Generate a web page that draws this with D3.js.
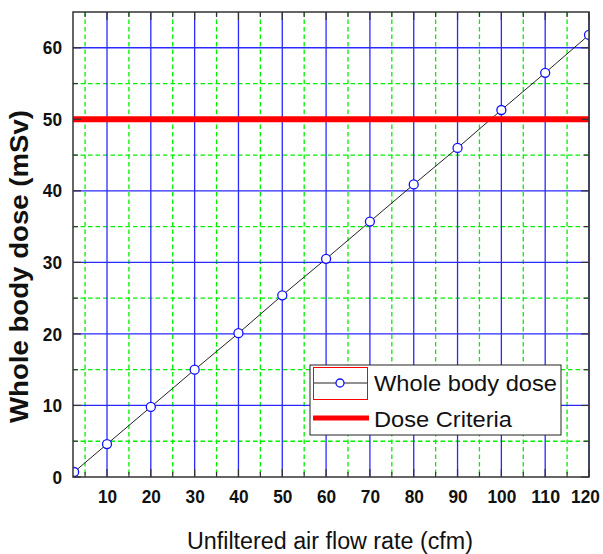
<!DOCTYPE html>
<html>
<head>
<meta charset="utf-8">
<script src="https://cdn.jsdelivr.net/npm/d3@7"></script>
<style>
  html, body { margin: 0; padding: 0; background: #fff; }
  svg { display: block; }
</style>
</head>
<body>
<svg id="chart" width="603" height="554"></svg>
<script>
// ---- data ----
const flow = [2.5, 10, 20, 30, 40, 50, 60, 70, 80, 90, 100, 110, 120];
const dose = [0.7, 4.6, 9.8, 15.0, 20.1, 25.4, 30.5, 35.7, 40.9, 46.0, 51.3, 56.5, 61.8];
const criteria = 50;
const xMajor = [10, 20, 30, 40, 50, 60, 70, 80, 90, 100, 110, 120];
const xMinor = [5, 15, 25, 35, 45, 55, 65, 75, 85, 95, 105, 115];
const yMajor = [0, 10, 20, 30, 40, 50, 60];
const yMinor = [5, 15, 25, 35, 45, 55];
const seriesNames = ["Whole body dose", "Dose Criteria"];
const xTitle = "Unfiltered air flow rate (cfm)";
const yTitle = "Whole body dose (mSv)";

// ---- layout ----
const L = 73, T = 12, R = 589, B = 477;
const svg = d3.select("#chart");
svg.append("rect").attr("width", 603).attr("height", 554).attr("fill", "#fff");

const x = d3.scaleLinear().domain([2.24, 120]).range([L, R]);
const y = d3.scaleLinear().domain([0, 65]).range([B, T]);

const tickFont = "'Liberation Sans', Arial, sans-serif";
const textFont = "'Liberation Sans', Arial, sans-serif";

// clip
svg.append("defs").append("clipPath").attr("id", "plotclip")
  .append("rect").attr("x", L).attr("y", T).attr("width", R - L).attr("height", B - T);

// ---- minor grid (green dashed) ----
const gMinor = svg.append("g");
gMinor.selectAll("line.vx").data(xMinor).join("line")
  .attr("x1", d => x(d)).attr("x2", d => x(d)).attr("y1", T).attr("y2", B)
  .attr("stroke", "#00f000").attr("stroke-width", 1.3).attr("stroke-dasharray", "4.5,3");
gMinor.selectAll("line.hy").data(yMinor).join("line")
  .attr("y1", d => y(d)).attr("y2", d => y(d)).attr("x1", L).attr("x2", R)
  .attr("stroke", "#00f000").attr("stroke-width", 1.3).attr("stroke-dasharray", "4.5,3");

// ---- major grid (blue solid) ----
const gMajor = svg.append("g");
gMajor.selectAll("line.vx").data(xMajor).join("line")
  .attr("x1", d => x(d)).attr("x2", d => x(d)).attr("y1", T).attr("y2", B)
  .attr("stroke", "#2a2aff").attr("stroke-width", 1.3);
gMajor.selectAll("line.hy").data(yMajor.filter(d => d > 0)).join("line")
  .attr("y1", d => y(d)).attr("y2", d => y(d)).attr("x1", L).attr("x2", R)
  .attr("stroke", "#2a2aff").attr("stroke-width", 1.3);

// ---- data ----
const pts = flow.map((f, i) => [f, dose[i]]);
const plot = svg.append("g").attr("clip-path", "url(#plotclip)");
plot.append("path").datum(pts)
  .attr("d", d3.line().x(d => x(d[0])).y(d => y(d[1])))
  .attr("fill", "none").attr("stroke", "#222").attr("stroke-width", 1);
plot.selectAll("circle").data(pts).join("circle")
  .attr("cx", d => x(d[0])).attr("cy", d => y(d[1])).attr("r", 4.5)
  .attr("fill", "#fff").attr("stroke", "#1010ff").attr("stroke-width", 1.3);
plot.append("line")
  .attr("x1", L).attr("x2", R).attr("y1", y(criteria)).attr("y2", y(criteria))
  .attr("stroke", "#ff0000").attr("stroke-width", 6);

// ---- ticks (all four sides) ----
const tickCol = "#333";
const gt = svg.append("g").attr("stroke", tickCol).attr("stroke-width", 1.2);
const allX = xMajor.map(v => [v, 8]).concat(xMinor.map(v => [v, 5]));
const allY = yMajor.map(v => [v, 8]).concat(yMinor.map(v => [v, 5]));
gt.selectAll("line.b").data(allX).join("line").attr("class", "b")
  .attr("x1", d => x(d[0])).attr("x2", d => x(d[0])).attr("y1", B).attr("y2", d => B - d[1]);
gt.selectAll("line.t").data(allX).join("line").attr("class", "t")
  .attr("x1", d => x(d[0])).attr("x2", d => x(d[0])).attr("y1", T).attr("y2", d => T + d[1]);
gt.selectAll("line.l").data(allY).join("line").attr("class", "l")
  .attr("y1", d => y(d[0])).attr("y2", d => y(d[0])).attr("x1", L).attr("x2", d => L + d[1]);
gt.selectAll("line.r").data(allY).join("line").attr("class", "r")
  .attr("y1", d => y(d[0])).attr("y2", d => y(d[0])).attr("x1", R).attr("x2", d => R - d[1]);

// frame
svg.append("rect").attr("x", L).attr("y", T).attr("width", R - L).attr("height", B - T)
  .attr("fill", "none").attr("stroke", tickCol).attr("stroke-width", 1.5);

// ---- tick labels via axes ----
const digitW = 9.6;
const xAxis = d3.axisBottom(x).tickValues(xMajor).tickSize(0).tickPadding(13).tickFormat(d3.format("d"));
const gx = svg.append("g").attr("transform", `translate(0,${B})`).call(xAxis);
gx.select(".domain").remove();
gx.selectAll("text").attr("font-family", tickFont).attr("font-size", 19).attr("font-weight", "bold").attr("fill", "#111")
  .attr("textLength", d => String(d).length * digitW).attr("lengthAdjust", "spacingAndGlyphs")
  .attr("dx", d => d === 120 ? -4 : 0);

const yAxis = d3.axisLeft(y).tickValues(yMajor).tickSize(0).tickPadding(11).tickFormat(d3.format("d"));
const gy = svg.append("g").attr("transform", `translate(${L},0)`).call(yAxis);
gy.select(".domain").remove();
gy.selectAll("text").attr("font-family", tickFont).attr("font-size", 19).attr("font-weight", "bold").attr("fill", "#111")
  .attr("textLength", d => String(d).length * digitW).attr("lengthAdjust", "spacingAndGlyphs");

// ---- axis titles ----
svg.append("text").attr("x", 187).attr("y", 549)
  .attr("font-family", textFont).attr("font-size", 23).attr("fill", "#111")
  .attr("textLength", 286).attr("lengthAdjust", "spacingAndGlyphs")
  .text(xTitle);
svg.append("text").attr("transform", "translate(28,423) rotate(-90)")
  .attr("font-family", textFont).attr("font-size", 25).attr("font-weight", "bold").attr("fill", "#111")
  .attr("textLength", 313).attr("lengthAdjust", "spacingAndGlyphs")
  .text(yTitle);

// ---- legend ----
const lg = svg.append("g");
lg.append("rect").attr("x", 310).attr("y", 365).attr("width", 251).attr("height", 70)
  .attr("fill", "#fff").attr("stroke", "#222").attr("stroke-width", 1);
lg.append("rect").attr("x", 313.5).attr("y", 367.5).attr("width", 54).attr("height", 32)
  .attr("fill", "none").attr("stroke", "#ff0000").attr("stroke-width", 1);
lg.append("line").attr("x1", 314).attr("x2", 367).attr("y1", 383).attr("y2", 383)
  .attr("stroke", "#222").attr("stroke-width", 1);
lg.append("circle").attr("cx", 340).attr("cy", 383).attr("r", 4)
  .attr("fill", "#fff").attr("stroke", "#1010ff").attr("stroke-width", 1.3);
lg.append("line").attr("x1", 313).attr("x2", 369).attr("y1", 418).attr("y2", 418)
  .attr("stroke", "#ff0000").attr("stroke-width", 5);
lg.selectAll("text").data(seriesNames).join("text")
  .attr("x", 374).attr("y", (d, i) => i === 0 ? 391 : 427)
  .attr("font-family", textFont).attr("font-size", 22).attr("fill", "#111")
  .attr("textLength", (d, i) => i === 0 ? 183 : 138).attr("lengthAdjust", "spacingAndGlyphs")
  .text(d => d);
</script>
</body>
</html>
